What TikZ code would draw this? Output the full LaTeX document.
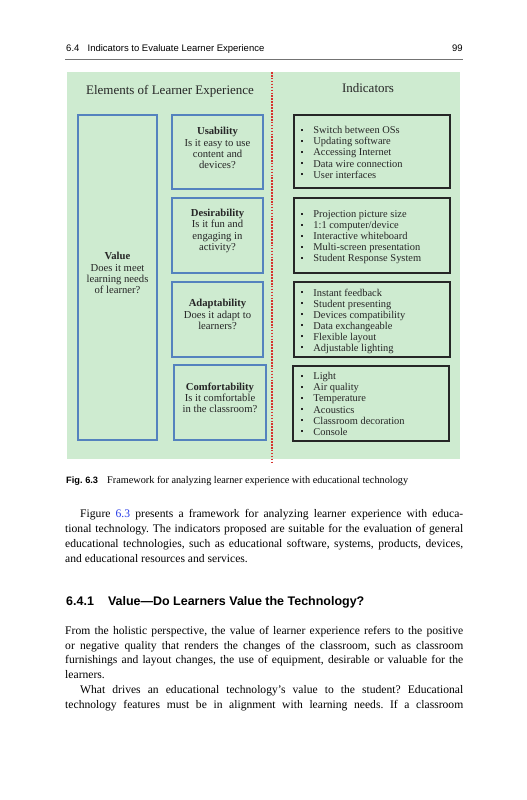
\documentclass[tikz,border=0pt]{standalone}
\usepackage{fontspec}
\setmainfont{Liberation Serif}
\setsansfont{Liberation Sans}
\usetikzlibrary{fit}

\definecolor{bggreen}{RGB}{206,235,208}
\definecolor{boxblue}{RGB}{84,130,190}
\definecolor{dashred}{RGB}{214,50,45}
\definecolor{linkblue}{RGB}{40,60,230}

\newcommand{\bul}{\raisebox{0.6ex}{\rule{1.9pt}{1.9pt}}\hspace{8.5pt}}

\tikzset{
  elembox/.style={draw=boxblue, line width=1.4pt, inner sep=0pt},
  indbox/.style={draw=black!85, line width=1.1pt, inner sep=0pt},
  elemtext/.style={align=center, inner sep=0pt, text=black!85,
    font=\fontsize{9.1}{9.5}\selectfont},
  indtext/.style={align=left, inner sep=0pt, anchor=north west, text=black!85,
    font=\fontsize{8.9}{9.4}\selectfont},
  bodytext/.style={align=justify, inner sep=0pt, anchor=north west,
    text width=119.4mm, font=\fontsize{9.9}{12.6}\selectfont\frenchspacing}
}

\begin{document}
\begin{tikzpicture}[x=0.3mm, y=-0.3mm]

% page frame
\useasboundingbox (0,0) rectangle (527,800);

% running head
\node[anchor=base west, inner sep=0pt, font=\sffamily\fontsize{8.1}{9}\selectfont]
  (head) at (66,51) {6.4\hspace{7pt}Indicators to Evaluate Learner Experience};
\node[anchor=base east, inner sep=0pt, font=\sffamily\fontsize{8.1}{9}\selectfont]
  (pageno) at (463,51) {99};
\draw[black!55, line width=0.4pt] (65,59.5) -- (463,59.5);

% green panel and red divider
\fill[bggreen] (67,72) rectangle (460,459);
\draw[dashred, line width=1.1pt, dash pattern=on 1.4pt off 1.1pt] (272,72) -- (272,464);

% column titles
\node[inner sep=0pt, font=\fontsize{11.1}{12}\selectfont, text=black!85]
  (elemtitle) at (170,91) {Elements of Learner Experience};
\node[inner sep=0pt, font=\fontsize{11.1}{12}\selectfont, text=black!85]
  (indtitle) at (368,88) {Indicators};

% element boxes (blue)
\node[elembox, fit={(78,115) (157,440)}] (value) {};
\node[elembox, fit={(172,115) (263,189)}] (usab) {};
\node[elembox, fit={(172,198) (263,273)}] (desir) {};
\node[elembox, fit={(172,282) (263,357)}] (adapt) {};
\node[elembox, fit={(174,365) (266,440)}] (comfort) {};

% element texts
\node[elemtext] (valuetxt) at (117.5,273)
  {\textbf{Value}\\Does it meet\\learning needs\\of learner?};
\node[elemtext] (usabtxt) at (217.5,148)
  {\textbf{Usability}\\Is it easy to use\\content and\\devices?};
\node[elemtext] (desirtxt) at (217.5,231)
  {\textbf{Desirability}\\Is it fun and\\engaging in\\activity?};
\node[elemtext] (adapttxt) at (217.5,314.5)
  {\textbf{Adaptability}\\Does it adapt to\\learners?};
\node[elemtext] (comforttxt) at (220,397.5)
  {\textbf{Comfortability}\\Is it comfortable\\in the classroom?};

% indicator boxes (black)
\node[indbox, fit={(294,115) (450,188)}] (ind1) {};
\node[indbox, fit={(294,198) (450,273)}] (ind2) {};
\node[indbox, fit={(294,282) (450,357)}] (ind3) {};
\node[indbox, fit={(293,366) (449,441)}] (ind4) {};

% indicator lists
\node[indtext] (ind1txt) at (301,126.5)
  {\bul Switch between OSs\\\bul Updating software\\\bul Accessing Internet\\
   \bul Data wire connection\\\bul User interfaces};
\node[indtext] (ind2txt) at (301,210.5)
  {\bul Projection picture size\\\bul 1:1 computer/device\\\bul Interactive whiteboard\\
   \bul Multi-screen presentation\\\bul Student Response System};
\node[indtext] (ind3txt) at (301,288.5)
  {\bul Instant feedback\\\bul Student presenting\\\bul Devices compatibility\\
   \bul Data exchangeable\\\bul Flexible layout\\\bul Adjustable lighting};
\node[indtext] (ind4txt) at (301,372.5)
  {\bul Light\\\bul Air quality\\\bul Temperature\\
   \bul Acoustics\\\bul Classroom decoration\\\bul Console};

% caption
\node[anchor=base west, inner sep=0pt, font=\sffamily\bfseries\fontsize{7.9}{9}\selectfont]
  (figno) at (66,483) {Fig.\ 6.3};
\node[anchor=base west, inner sep=0pt, font=\fontsize{8.75}{9}\selectfont]
  (caption) at (107,483) {Framework for analyzing learner experience with educational technology};

% body text, first paragraph
\node[bodytext] (para1) at (65,509.5)
  {\hspace*{4.5mm}Figure \textcolor{linkblue}{6.3} presents a framework for analyzing learner experience with educa-\linebreak
   tional technology. The indicators proposed are suitable for the evaluation of general\linebreak
   educational technologies, such as educational software, systems, products, devices,\linebreak
   and educational resources and services.};

% section heading
\node[anchor=base west, inner sep=0pt, font=\sffamily\bfseries\fontsize{10.65}{12}\selectfont]
  (sechead) at (66,605) {6.4.1\hspace{12pt}Value---Do Learners Value the Technology?};

% body text, second paragraph
\node[bodytext] (para2) at (65,626)
  {From the holistic perspective, the value of learner experience refers to the positive\linebreak
   or negative quality that renders the changes of the classroom, such as classroom\linebreak
   furnishings and layout changes, the use of equipment, desirable or valuable for the\linebreak
   learners.\\
   \hspace*{4.5mm}What drives an educational technology's value to the student? Educational\linebreak
   technology features must be in alignment with learning needs. If a classroom\linebreak};

\end{tikzpicture}
\end{document}
